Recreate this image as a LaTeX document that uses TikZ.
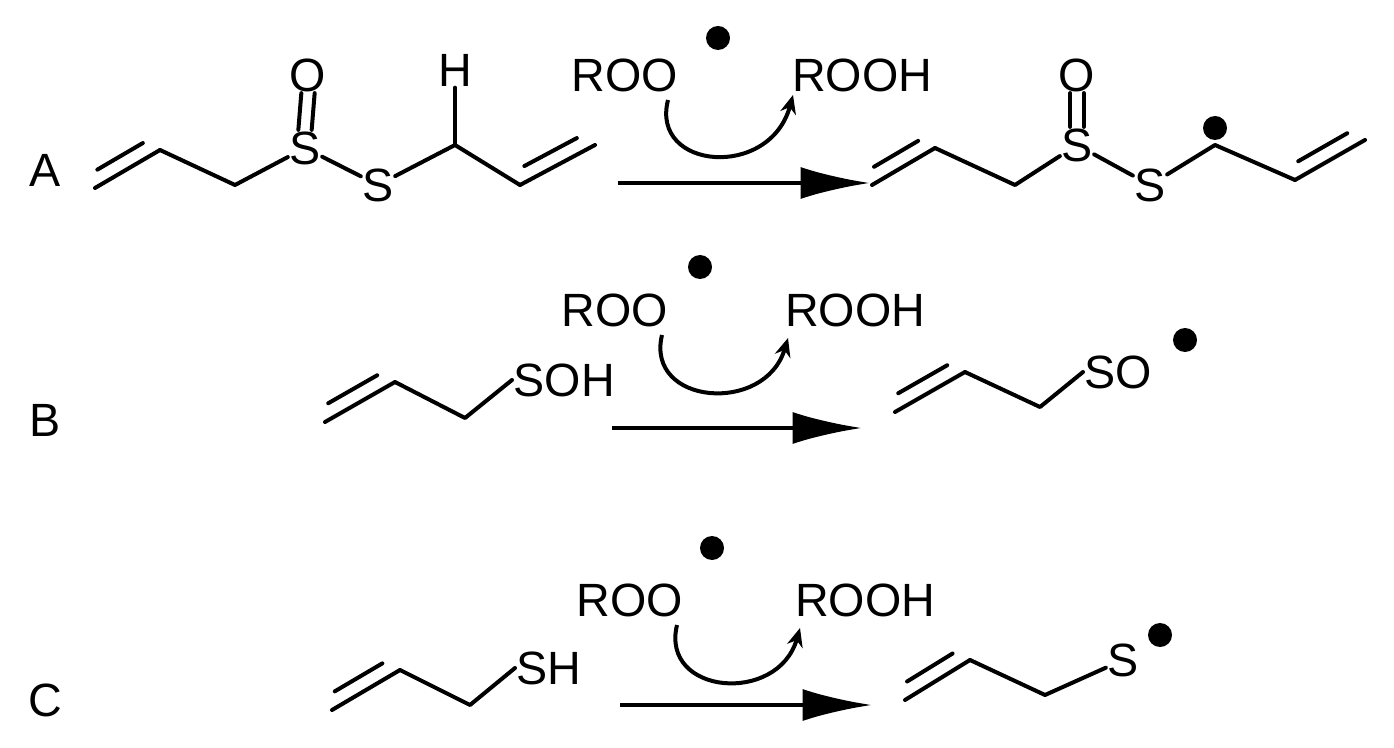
\documentclass[tikz,border=0pt]{standalone}
\usepackage{fontspec}
\setmainfont{Liberation Sans}
\usetikzlibrary{arrows.meta,calc}
\newcommand{\dbl}[3]{\draw[bond] (#1) -- (#2);
 \draw[bond] ($(#1)!.15!(#2)!11pt!#3:(#2)$) -- ($(#2)!.15!(#1)!11pt!-#3:(#1)$);}
\begin{document}
\begin{tikzpicture}[x=0.75pt,y=-0.75pt,
 bond/.style={line width=3pt,line cap=round,line join=round},
 atom/.style={font=\fontsize{35}{38}\selectfont,inner sep=1pt},
 lab/.style={font=\fontsize{35}{38}\selectfont},
 rad/.style={circle,fill=black,minimum size=18pt,inner sep=0pt},
 big/.style={line width=3pt,-{Latex[length=52pt,width=24pt]}},
 curv/.style={line width=3pt,-{Stealth[length=14pt,width=12pt]}}]
\useasboundingbox (0,0) rectangle (1394,748);
% ---------- A ----------
\node[lab] (LA) at (45,170) {A};
\coordinate (a1) at (95,188); \coordinate (a2) at (160,150); \coordinate (a3) at (235,185);
\node[atom] (S1) at (305,148) {S}; \node[atom] (O1) at (308,75) {O};
\node[atom] (S2) at (378,185) {S}; \coordinate (a4) at (455,145);
\node[atom] (H1) at (455,70) {H}; \coordinate (a5) at (520,185); \coordinate (a6) at (595,145);
\dbl{a1}{a2}{90}
\draw[bond] (a2)--(a3)--(S1); \draw[bond] (S1)--(S2)--(a4)--(a5);
\draw[bond] (a4)--(H1);
\draw[bond] ([xshift=-5pt]S1.north)--([xshift=-5pt]O1.south);
\draw[bond] ([xshift=5pt]S1.north)--([xshift=5pt]O1.south);
\dbl{a5}{a6}{90}
\node[atom] (RA) at (625,75) {ROO}; \node[rad] (dA) at (718,38) {};
\node[atom] (RHA) at (862,75) {ROOH};
\coordinate (cA1) at (668,100); \coordinate (cA2) at (793,95);
\draw[curv] (cA1) .. controls (650,170) and (770,180) .. (cA2);
\coordinate (arA1) at (618,183); \coordinate (arA2) at (870,183);
\draw[big] (arA1)--(arA2);
\coordinate (p1) at (872,185); \coordinate (p2) at (935,148); \coordinate (p3) at (1015,185);
\node[atom] (S3) at (1077,145) {S}; \node[atom] (O2) at (1077,75) {O};
\node[atom] (S4) at (1150,185) {S}; \coordinate (p4) at (1215,145);
\node[rad] (dA2) at (1215,128) {};
\coordinate (p5) at (1295,180); \coordinate (p6) at (1365,140);
\dbl{p1}{p2}{90}
\draw[bond] (p2)--(p3)--(S3); \draw[bond] (S3)--(S4)--(p4)--(p5);
\draw[bond] ([xshift=-5pt]S3.north)--([xshift=-5pt]O2.south);
\draw[bond] ([xshift=5pt]S3.north)--([xshift=5pt]O2.south);
\dbl{p5}{p6}{90}
% ---------- B ----------
\node[lab] (LB) at (45,420) {B};
\coordinate (b1) at (325,422); \coordinate (b2) at (395,382); \coordinate (b3) at (465,418);
\node[atom,anchor=west] (SOH) at (512,380) {SOH};
\dbl{b1}{b2}{90}
\draw[bond] (b2)--(b3)--(SOH.west);
\node[atom] (RB) at (615,310) {ROO}; \node[rad] (dB) at (700,267) {};
\node[atom] (RHB) at (855,310) {ROOH};
\coordinate (cB1) at (662,335); \coordinate (cB2) at (788,338);
\draw[curv] (cB1) .. controls (645,405) and (765,415) .. (cB2);
\coordinate (arB1) at (612,428); \coordinate (arB2) at (862,428);
\draw[big] (arB1)--(arB2);
\coordinate (q1) at (895,412); \coordinate (q2) at (965,372); \coordinate (q3) at (1040,407);
\node[atom,anchor=west] (SO) at (1083,372) {SO}; \node[rad] (dB2) at (1185,340) {};
\dbl{q1}{q2}{90}
\draw[bond] (q2)--(q3)--(SO.west);
% ---------- C ----------
\node[lab] (LC) at (45,700) {C};
\coordinate (c1) at (332,710); \coordinate (c2) at (400,670); \coordinate (c3) at (470,705);
\node[atom,anchor=west] (SH) at (515,668) {SH};
\dbl{c1}{c2}{90}
\draw[bond] (c2)--(c3)--(SH.west);
\node[atom] (RC) at (630,600) {ROO}; \node[rad] (dC) at (712,548) {};
\node[atom] (RHC) at (865,600) {ROOH};
\coordinate (cC1) at (677,625); \coordinate (cC2) at (800,628);
\draw[curv] (cC1) .. controls (660,695) and (778,705) .. (cC2);
\coordinate (arC1) at (620,705); \coordinate (arC2) at (872,705);
\draw[big] (arC1)--(arC2);
\coordinate (r1) at (905,700); \coordinate (r2) at (970,660); \coordinate (r3) at (1045,695);
\node[atom] (S5) at (1123,660) {S}; \node[rad] (dC2) at (1160,635) {};
\dbl{r1}{r2}{90}
\draw[bond] (r2)--(r3)--(S5);
\end{tikzpicture}
\end{document}
